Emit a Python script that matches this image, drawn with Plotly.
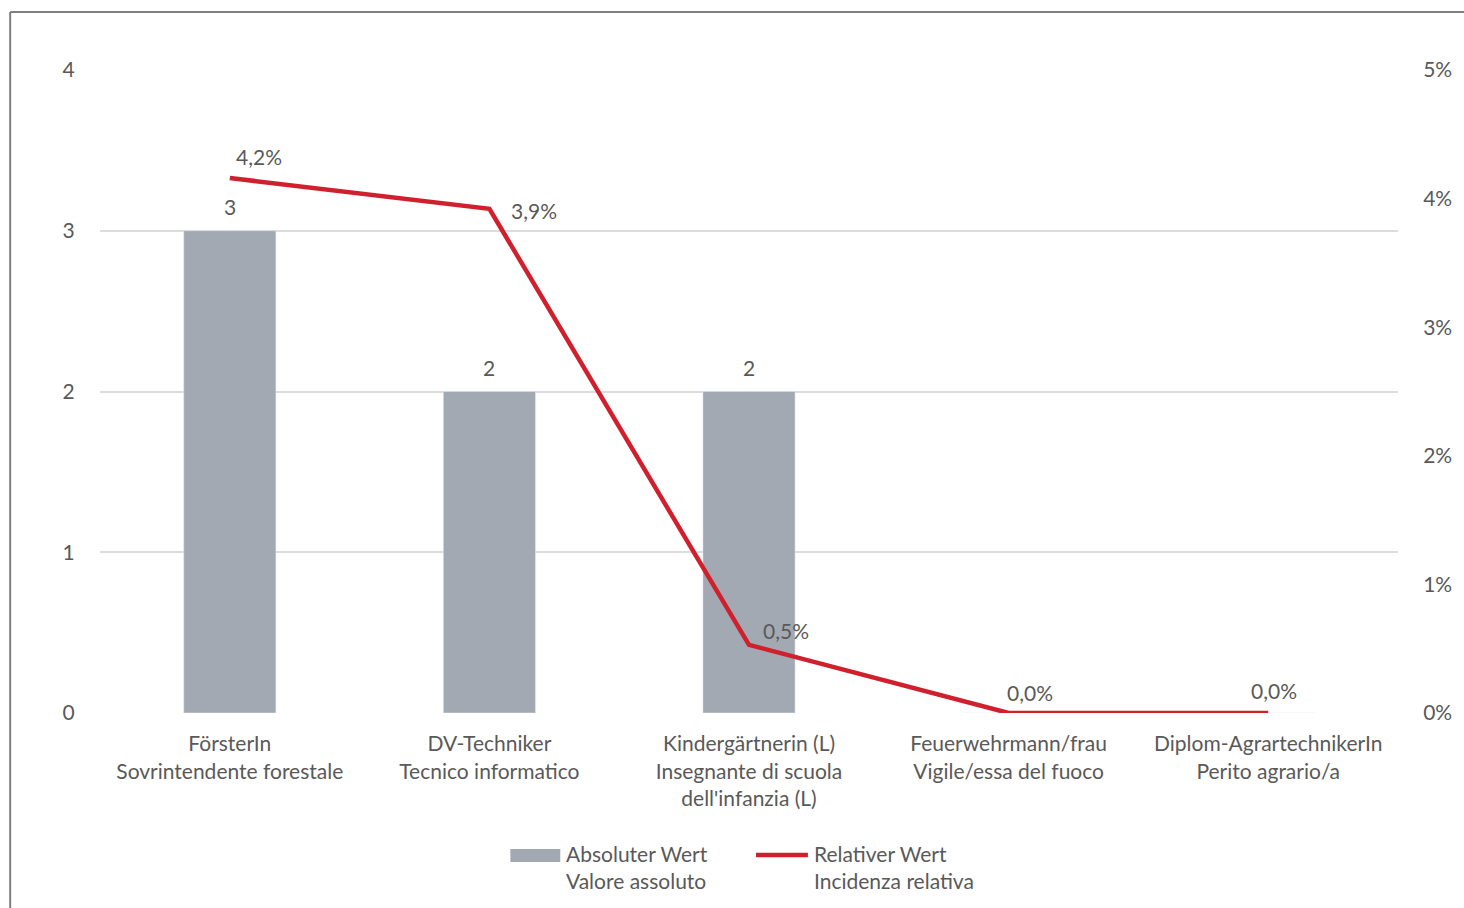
import plotly.graph_objects as go

categories = [
    "FörsterIn<br>Sovrintendente forestale",
    "DV-Techniker<br>Tecnico informatico",
    "Kindergärtnerin (L)<br>Insegnante di scuola<br>dell'infanzia (L)",
    "Feuerwehrmann/frau<br>Vigile/essa del fuoco",
    "Diplom-AgrartechnikerIn<br>Perito agrario/a",
]
absolute_values = [3, 2, 2, 0, 0]
relative_values = [0.0416, 0.0392, 0.0053, 0.0, 0.0]

# label offsets for the line values (pixels)
rel_label_xshift = [29, 45, 37, 21, 6]
rel_label_yshift = [22, -2, 14, 21, 23]

FONT = "Lato"
FS = 21
TXT = "#595959"
BAR = "#a2a9b2"
RED = "#d0202e"

fig = go.Figure()
fig.add_trace(go.Bar(
    x=categories, y=absolute_values, marker_color=BAR, width=0.355,
    showlegend=False, name="Absoluter Wert",
))
fig.add_trace(go.Scatter(
    x=categories, y=relative_values, yaxis="y2", mode="lines",
    line=dict(color=RED, width=4.5), showlegend=False, name="Relativer Wert",
))

for c, v in zip(categories, absolute_values):
    if v > 0:
        fig.add_annotation(x=c, y=v, yref="y", text=str(v), showarrow=False,
                           yanchor="middle", yshift=24,
                           font=dict(family=FONT, size=FS, color=TXT))

for i, (c, v) in enumerate(zip(categories, relative_values)):
    fig.add_annotation(
        x=c, y=v, yref="y2", text=f"{v*100:.1f}%".replace(".", ","),
        showarrow=False, xshift=rel_label_xshift[i], yshift=rel_label_yshift[i],
        font=dict(family=FONT, size=FS, color=TXT),
    )

# frame
fig.add_shape(type="line", xref="paper", yref="paper", x0=-0.0692, x1=1.06, y0=1.0902, y1=1.0902,
              line=dict(color="#7f7f7f", width=2))
fig.add_shape(type="line", xref="paper", yref="paper", x0=-0.0692, x1=-0.0692, y0=1.0902, y1=-0.32,
              line=dict(color="#7f7f7f", width=2))

# manual legend
fig.add_shape(type="rect", xref="paper", yref="paper", x0=(511-100)/1300, x1=(561-100)/1300,
              y0=(713-862)/643, y1=(713-849)/643, fillcolor=BAR, line=dict(width=0))
fig.add_shape(type="line", xref="paper", yref="paper", x0=(757-100)/1300, x1=(809-100)/1300,
              y0=(713-855)/643, y1=(713-855)/643, line=dict(color=RED, width=4.5))
for xpx, txt in [(565, "Absoluter Wert<br>Valore assoluto"), (813, "Relativer Wert<br>Incidenza relativa")]:
    fig.add_annotation(x=(xpx-100)/1300, y=(713-839)/643, xref="paper", yref="paper",
                       xanchor="left", yanchor="top", align="left", showarrow=False, text=txt,
                       font=dict(family=FONT, size=FS, color=TXT))

fig.update_layout(
    width=1464, height=908,
    margin=dict(l=100, r=64, t=70, b=195),
    paper_bgcolor="white", plot_bgcolor="white",
    separators=",.",
    font=dict(family=FONT, size=FS, color=TXT),
    xaxis=dict(range=[-0.5, 4.5], showgrid=False, showline=False, zeroline=False,
               tickfont=dict(family=FONT, size=FS, color=TXT), ticks="outside", ticklen=12, tickcolor="white"),
    yaxis=dict(range=[0, 4], dtick=1, showgrid=True, gridcolor="#dcdcdc", gridwidth=2,
               zeroline=False, showline=False, ticks="outside", ticklen=20, tickcolor="white",
               tickfont=dict(family=FONT, size=FS, color=TXT)),
    yaxis2=dict(range=[0, 0.05], dtick=0.01, tickformat=".0%", overlaying="y", side="right",
                showgrid=False, zeroline=False, showline=False, ticks="outside", ticklen=20, tickcolor="white",
                tickfont=dict(family=FONT, size=FS, color=TXT)),
)

fig.write_html("out.html")
